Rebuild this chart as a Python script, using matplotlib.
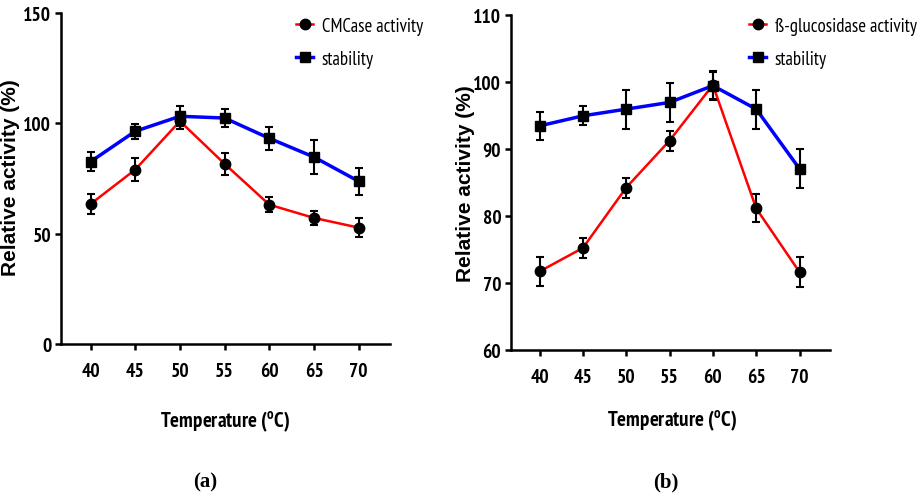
import matplotlib
matplotlib.use("Agg")
import matplotlib.pyplot as plt

temps = [40, 45, 50, 55, 60, 65, 70]

# panel (a)
cmc_act = [63.4, 79.0, 101.0, 81.6, 63.1, 57.1, 52.7]
cmc_act_err = [4.5, 5.3, 3.5, 5.0, 3.4, 3.0, 4.4]
cmc_stab = [82.6, 96.4, 103.2, 102.4, 93.2, 84.7, 73.7]
cmc_stab_err = [4.4, 3.5, 4.5, 3.9, 5.3, 7.7, 6.0]

# panel (b)
bg_act = [71.7, 75.2, 84.2, 91.2, 99.5, 81.1, 71.6]
bg_act_err = [2.2, 1.5, 1.5, 1.5, 2.1, 2.1, 2.2]
bg_stab = [93.4, 94.9, 95.9, 96.9, 99.4, 95.9, 87.0]
bg_stab_err = [2.1, 1.4, 2.9, 2.9, 2.1, 2.9, 2.9]

narrow = ['PT Sans Narrow', 'DejaVu Sans']
plt.rcParams['font.family'] = narrow
plt.rcParams['mathtext.fontset'] = 'custom'
plt.rcParams['mathtext.rm'] = 'PT Sans Narrow'
plt.rcParams['mathtext.bf'] = 'PT Sans Narrow:bold'

fig = plt.figure(figsize=(9.19, 5.02), dpi=100)
ax1 = fig.add_axes([0.0664, 0.313, 0.358, 0.659])
ax2 = fig.add_axes([0.556, 0.301, 0.347, 0.668])


def draw(ax, act, act_err, stab, stab_err, act_label, ylim, yticks,
         ylab_xy, xlab_xy, leg_x):
    a = ax.errorbar(temps, act, yerr=act_err, color='red', lw=1.8, marker='o',
                    ms=7.5, mfc='black', mec='black', ecolor='black', elinewidth=1.5,
                    capsize=3, capthick=1.5, zorder=3)
    s = ax.errorbar(temps, stab, yerr=stab_err, color='blue', lw=2.5, marker='s',
                    ms=7, mfc='black', mec='black', ecolor='black', elinewidth=1.5,
                    capsize=3, capthick=1.5, zorder=4)
    ax.set_xlim(36.7, 73.5)
    ax.set_ylim(*ylim)
    ax.set_xticks(temps)
    ax.set_yticks(yticks)
    for sp in ['top', 'right']:
        ax.spines[sp].set_visible(False)
    for sp in ['left', 'bottom']:
        ax.spines[sp].set_linewidth(1.8)
    ax.tick_params(width=1.8, length=4, labelsize=14, pad=3)
    ax.tick_params(axis='x', pad=9)
    for lab in ax.get_xticklabels() + ax.get_yticklabels():
        lab.set_fontweight('bold')
    ax.set_ylabel('Relative activity (%)', family=['Liberation Sans', 'DejaVu Sans'],
                  fontweight='bold', fontsize=15)
    ax.yaxis.set_label_coords(*ylab_xy)
    ax.set_xlabel('Temperature ($^{\\mathbf{o}}$C)', fontweight='bold', fontsize=15)
    ax.xaxis.set_label_coords(*xlab_xy)
    ax.legend([a[0], s[0]], [act_label, 'stability'], loc='upper left',
              bbox_to_anchor=(leg_x, 0.998), bbox_transform=fig.transFigure,
              frameon=False, fontsize=13.5, handlelength=0.9, labelspacing=0.8,
              handletextpad=0.45)


draw(ax1, cmc_act, cmc_act_err, cmc_stab, cmc_stab_err, 'CMCase activity',
     (0, 150), [0, 50, 100, 150], (-0.125, 0.505), (0.498, -0.196), 0.304)
draw(ax2, bg_act, bg_act_err, bg_stab, bg_stab_err, 'ß-glucosidase activity',
     (60, 110), [60, 70, 80, 90, 100, 110], (-0.114, 0.50), (0.505, -0.174), 0.797)

fig.text(0.223, 0.028, '(a)', family=['Liberation Serif', 'DejaVu Serif'],
         fontweight='bold', fontsize=15, ha='center')
fig.text(0.724, 0.028, '(b)', family=['Liberation Serif', 'DejaVu Serif'],
         fontweight='bold', fontsize=15, ha='center')

fig.savefig('out.png', dpi=100)
